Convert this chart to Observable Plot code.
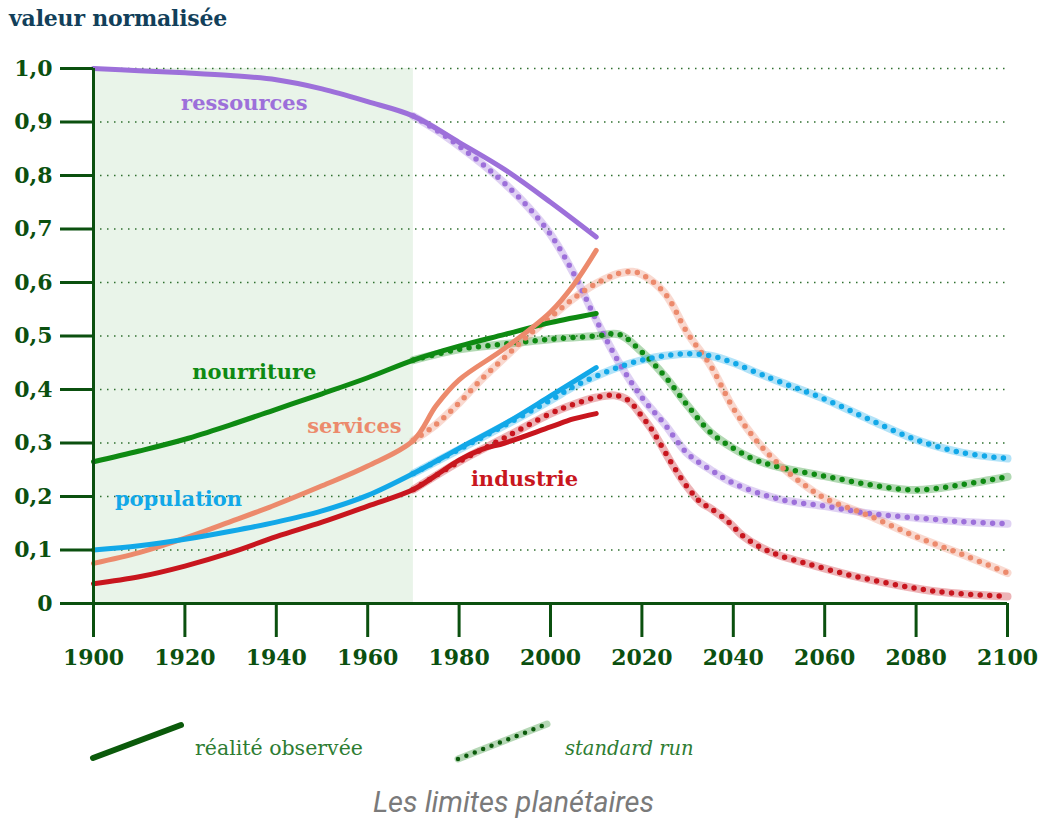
<!DOCTYPE html>
<html>
<head>
<meta charset="utf-8">
<script src="https://cdn.jsdelivr.net/npm/d3@7"></script>
<script src="https://cdn.jsdelivr.net/npm/@observablehq/plot@0.6"></script>
<style>
  html, body { margin: 0; padding: 0; background: #fff; }
  body { width: 1042px; height: 821px; position: relative; overflow: hidden; }
  #title { position: absolute; left: 9px; top: 5px; font-family: "DejaVu Serif", serif; font-weight: bold; font-size: 22px; color: #123f5a; letter-spacing: -0.2px; }
  #chart { position: absolute; left: 0; top: 40px; }
  #legend { position: absolute; left: 0; top: 700px; }
  #caption { position: absolute; left: 0; width: 1027px; top: 785px; text-align: center; font-family: Roboto, sans-serif; font-style: italic; font-size: 29px; color: #7a7a7a; }
</style>
</head>
<body>
<div id="title">valeur normalisée</div>
<div id="chart"></div>
<svg id="legend" width="1042" height="80">
  <line x1="93" y1="58" x2="181" y2="25" stroke="#0b5a0b" stroke-width="6" stroke-linecap="round"/>
  <text x="195" y="55" font-family="DejaVu Serif, serif" font-size="20.5" fill="#2e7d32">réalité observée</text>
  <line x1="458" y1="59" x2="547" y2="24" stroke="#0b7a0b" stroke-opacity="0.3" stroke-width="7" stroke-linecap="round"/>
  <line x1="458" y1="59" x2="547" y2="24" stroke="#0b5a0b" stroke-width="4.5" stroke-dasharray="0 9" stroke-linecap="round"/>
  <text x="565" y="55" font-family="DejaVu Serif, serif" font-style="italic" font-size="19.5" fill="#2e7d32">standard run</text>
</svg>
<div id="caption">Les limites planétaires</div>
<script>
// ---- data ----
const xTicks = [1900, 1920, 1940, 1960, 1980, 2000, 2020, 2040, 2060, 2080, 2100];
const yTicks = [0, 0.1, 0.2, 0.3, 0.4, 0.5, 0.6, 0.7, 0.8, 0.9, 1.0];
const shadeStart = 1900, shadeEnd = 1970;

// observed (réalité observée)
const ressourcesObsYears = [1900, 1910, 1920, 1930, 1940, 1950, 1960, 1970, 1980, 1990, 2000, 2010];
const ressourcesObs      = [1.0, 0.996, 0.992, 0.987, 0.979, 0.962, 0.938, 0.911, 0.862, 0.811, 0.75, 0.685];
const nourritureObsYears = [1900, 1910, 1920, 1930, 1940, 1950, 1960, 1970, 1980, 1990, 2000, 2010];
const nourritureObs      = [0.265, 0.285, 0.307, 0.334, 0.363, 0.392, 0.422, 0.455, 0.481, 0.503, 0.525, 0.542];
const servicesObsYears   = [1900, 1910, 1920, 1930, 1940, 1950, 1960, 1970, 1975, 1980, 1990, 2000, 2005, 2010];
const servicesObs        = [0.075, 0.095, 0.122, 0.153, 0.185, 0.22, 0.257, 0.305, 0.37, 0.418, 0.477, 0.545, 0.595, 0.66];
const populationObsYears = [1900, 1910, 1920, 1930, 1940, 1950, 1960, 1970, 1980, 1990, 2000, 2010];
const populationObs      = [0.1, 0.108, 0.12, 0.135, 0.152, 0.173, 0.202, 0.243, 0.29, 0.336, 0.388, 0.441];
const industrieObsYears  = [1900, 1910, 1920, 1930, 1940, 1950, 1960, 1970, 1975, 1980, 1985, 1990, 2000, 2005, 2010];
const industrieObs       = [0.037, 0.05, 0.07, 0.095, 0.125, 0.152, 0.182, 0.213, 0.24, 0.268, 0.288, 0.3, 0.33, 0.345, 0.355];

// standard run
const ressourcesRunYears = [1970, 1975, 1980, 1985, 1990, 1995, 2000, 2005, 2010, 2015, 2020, 2025, 2030, 2035, 2040, 2050, 2060, 2070, 2080, 2090, 2100];
const ressourcesRun      = [0.911, 0.885, 0.855, 0.822, 0.785, 0.742, 0.69, 0.618, 0.53, 0.45, 0.385, 0.335, 0.28, 0.25, 0.225, 0.195, 0.182, 0.168, 0.16, 0.153, 0.149];
const nourritureRunYears = [1970, 1980, 1990, 2000, 2010, 2015, 2020, 2025, 2030, 2035, 2040, 2045, 2050, 2060, 2070, 2080, 2090, 2100];
const nourritureRun      = [0.455, 0.475, 0.485, 0.494, 0.5, 0.503, 0.47, 0.425, 0.37, 0.32, 0.29, 0.268, 0.255, 0.238, 0.222, 0.212, 0.222, 0.237];
const servicesRunYears   = [1970, 1975, 1980, 1985, 1990, 1995, 2000, 2005, 2010, 2015, 2018, 2020, 2025, 2030, 2035, 2040, 2045, 2050, 2055, 2060, 2070, 2080, 2090, 2100];
const servicesRun        = [0.305, 0.335, 0.375, 0.42, 0.46, 0.5, 0.535, 0.57, 0.598, 0.617, 0.62, 0.615, 0.58, 0.505, 0.445, 0.365, 0.305, 0.26, 0.225, 0.197, 0.163, 0.125, 0.092, 0.057];
const populationRunYears = [1970, 1980, 1990, 2000, 2005, 2010, 2015, 2020, 2025, 2030, 2035, 2040, 2045, 2050, 2060, 2070, 2080, 2090, 2100];
const populationRun      = [0.243, 0.288, 0.333, 0.38, 0.405, 0.425, 0.442, 0.455, 0.463, 0.467, 0.463, 0.45, 0.432, 0.415, 0.382, 0.343, 0.306, 0.282, 0.271];
const industrieRunYears  = [1970, 1980, 1990, 2000, 2005, 2010, 2014, 2017, 2020, 2022, 2024, 2027, 2030, 2033, 2035, 2039, 2042, 2046, 2050, 2056, 2065, 2075, 2085, 2100];
const industrieRun       = [0.213, 0.265, 0.31, 0.355, 0.372, 0.385, 0.389, 0.38, 0.35, 0.327, 0.299, 0.255, 0.217, 0.188, 0.178, 0.152, 0.127, 0.105, 0.09, 0.075, 0.054, 0.036, 0.022, 0.013];

const seriesNames  = ["ressources", "nourriture", "services", "population", "industrie"];
const seriesColors = ["#9d70da", "#0e8a12", "#ec8a6c", "#12a8e8", "#c8161e"];
const labelYears   = [1933, 1935.2, 1957.1, 1918.6, 1994.3];
const labelValues  = [0.935, 0.432, 0.331, 0.194, 0.232];

// ---- build tables ----
const obsSets = [[ressourcesObsYears, ressourcesObs], [nourritureObsYears, nourritureObs], [servicesObsYears, servicesObs], [populationObsYears, populationObs], [industrieObsYears, industrieObs]];
const runSets = [[ressourcesRunYears, ressourcesRun], [nourritureRunYears, nourritureRun], [servicesRunYears, servicesRun], [populationRunYears, populationRun], [industrieRunYears, industrieRun]];
const toRows = (sets) => sets.flatMap(([ys, vs], i) => ys.map((y, j) => ({year: y, value: vs[j], series: seriesNames[i]})));
const obsRows = toRows(obsSets);
const runRows = toRows(runSets);
const labels = seriesNames.map((s, i) => ({series: s, year: labelYears[i], value: labelValues[i]}));

const axisColor = "#0b500f";
const curve = "catmull-rom";
const frFmt = d => d === 0 ? "0" : d3.format(".1f")(d).replace(".", ",");

const chart = Plot.plot({
  width: 1042,
  height: 640,
  marginLeft: 93,
  marginRight: 35,
  marginTop: 28,
  marginBottom: 77,
  style: {fontFamily: "DejaVu Serif, serif", fontWeight: "bold", fontSize: "22px", color: axisColor, background: "transparent"},
  x: {domain: [1900, 2100]},
  y: {domain: [0, 1]},
  color: {domain: seriesNames, range: seriesColors},
  marks: [
    Plot.rect([{x1: shadeStart, x2: shadeEnd}], {x1: "x1", x2: "x2", y1: 0, y2: 1, fill: "#e9f4e9"}),
    Plot.gridY(yTicks.filter(d => d > 0), {stroke: "#2f6f2f", strokeOpacity: 1, strokeWidth: 1.6, strokeDasharray: "1.5 5.5"}),
    Plot.line(runRows, {x: "year", y: "value", z: "series", stroke: "series", strokeWidth: 8, strokeOpacity: 0.32, curve, strokeLinecap: "round"}),
    Plot.line(runRows, {x: "year", y: "value", z: "series", stroke: "series", strokeWidth: 5.5, strokeDasharray: "0 9.5", strokeLinecap: "round", curve}),
    Plot.line(obsRows, {x: "year", y: "value", z: "series", stroke: "series", strokeWidth: 5, strokeLinecap: "round", curve}),
    Plot.text(labels, {x: "year", y: "value", text: "series", fill: "series", fontSize: 21, fontWeight: "bold"}),
    Plot.ruleX([1900], {y1: 0, y2: 1, stroke: axisColor, strokeWidth: 3}),
    Plot.ruleY([0], {stroke: axisColor, strokeWidth: 3}),
    Plot.axisY({ticks: yTicks, tickFormat: frFmt, tickSize: 33, tickPadding: 8, stroke: axisColor, strokeWidth: 3, label: null, fontSize: 22}),
    Plot.axisX({ticks: xTicks, tickFormat: d => String(d), tickSize: 34, tickPadding: 12, stroke: axisColor, strokeWidth: 3, label: null, fontSize: 22})
  ]
});
document.getElementById("chart").appendChild(chart);
</script>
</body>
</html>
